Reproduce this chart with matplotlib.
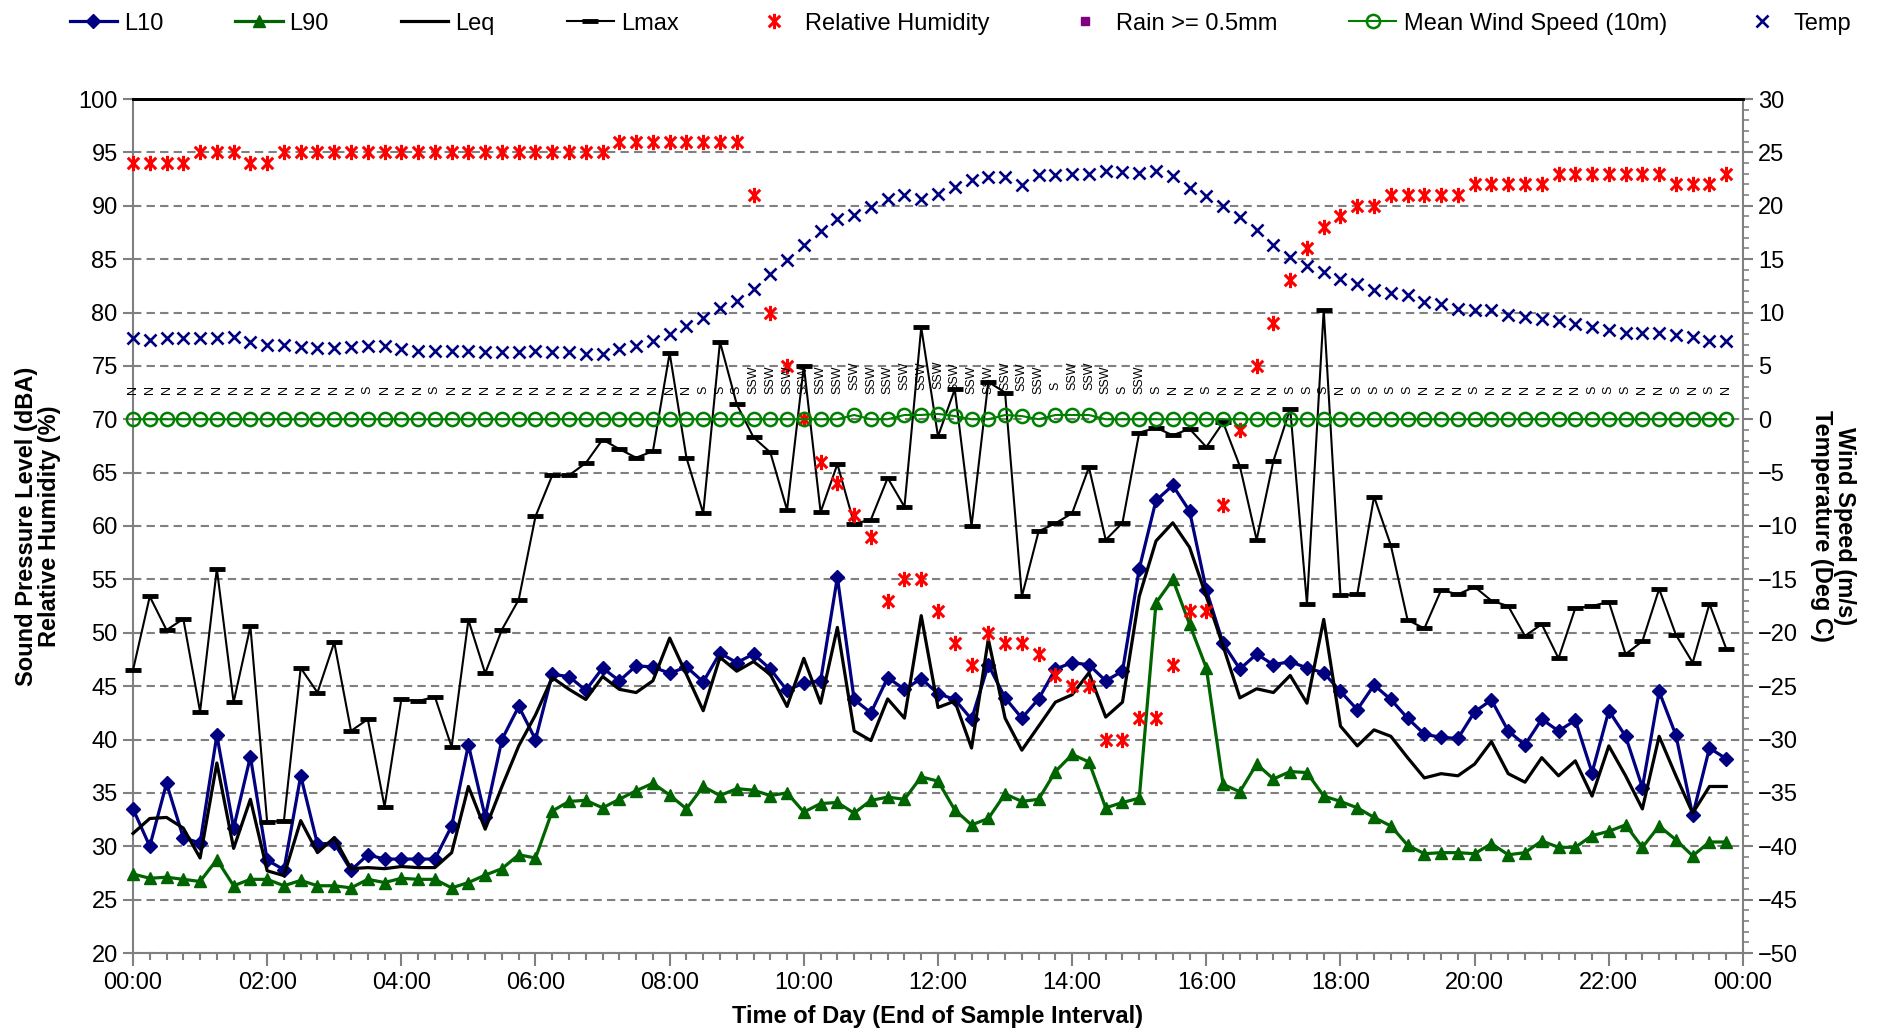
import numpy as np
import matplotlib
matplotlib.use('Agg')
import matplotlib.pyplot as plt
from matplotlib.path import Path
from matplotlib.lines import Line2D
from matplotlib.ticker import MultipleLocator

plt.rcParams['font.family'] = ['Liberation Sans', 'DejaVu Sans']

# ---------------- data (15-minute intervals, 00:00 .. 23:45) ----------------
interval_h = 0.25
n_int = 96

L10 = [33.5, 30.0, 35.9, 30.8, 30.3, 40.4, 31.7, 38.4, 28.7, 27.8, 36.6, 30.2, 30.3, 27.75, 29.2, 28.8,
       28.8, 28.8, 28.8, 31.9, 39.5, 32.75, 40.0, 43.1, 40.0,
       46.1, 45.9, 44.6, 46.7, 45.5, 46.9, 46.8, 46.2, 46.8, 45.4, 48.1, 47.2, 48.0, 46.6, 44.6, 45.3,
       45.5, 55.2, 43.75, 42.5, 45.8, 44.7, 45.7, 44.3,
       43.75, 41.9, 47.0, 43.9, 42.0, 43.8, 46.6, 47.2, 47.0, 45.5, 46.4, 56.0, 62.4, 63.8, 61.4, 54.0,
       49.0, 46.6, 48.0, 47.0, 47.3, 46.7, 46.25, 44.5, 42.8,
       45.1, 43.75, 42.0, 40.5, 40.2, 40.1, 42.6, 43.7, 40.8, 39.5, 41.9, 40.8, 41.8, 36.9, 42.7, 40.3,
       35.5, 44.5, 40.4, 32.9, 39.2, 38.2]

L90 = [27.4, 27.0, 27.1, 26.9, 26.7, 28.75, 26.3, 26.9, 26.9, 26.3, 26.8, 26.3, 26.3, 26.1, 26.9, 26.6,
       27.0, 26.9, 26.9, 26.1, 26.6, 27.3, 27.9, 29.2, 28.9,
       33.3, 34.2, 34.3, 33.6, 34.4, 35.2, 35.9, 34.8, 33.5, 35.6, 34.75, 35.4, 35.25, 34.75, 35.0, 33.2,
       34.0, 34.1, 33.1, 34.3, 34.6, 34.4, 36.5, 36.1,
       33.4, 32.0, 32.6, 34.9, 34.2, 34.4, 37.0, 38.6, 37.9, 33.6, 34.1, 34.5, 52.8, 55.0, 50.8, 46.7,
       35.8, 35.1, 37.7, 36.3, 37.0, 36.9, 34.7, 34.2, 33.6,
       32.7, 31.9, 30.1, 29.3, 29.4, 29.4, 29.3, 30.25, 29.2, 29.4, 30.5, 29.9, 29.9, 31.0, 31.4, 32.0,
       29.9, 31.9, 30.6, 29.1, 30.4, 30.4]

Leq = [31.2, 32.6, 32.7, 31.7, 28.9, 37.8, 29.8, 34.4, 27.7, 27.25, 32.4, 29.4, 30.8, 27.9, 28.0, 27.9,
       28.1, 28.0, 28.0, 29.4, 35.6, 31.6, 35.6, 39.4, 42.3,
       45.8, 44.7, 43.75, 45.9, 44.7, 44.4, 45.5, 49.5, 46.1, 42.7, 47.7, 46.4, 47.3, 46.1, 43.1, 47.6,
       43.4, 50.5, 40.8, 39.9, 43.8, 42.0, 51.6, 43.0,
       43.6, 39.2, 49.4, 42.0, 39.0, 41.25, 43.5, 44.2, 46.25, 42.1, 43.5, 53.4, 58.6, 60.3, 58.0, 53.4,
       48.75, 43.9, 44.75, 44.4, 46.0, 43.4, 51.25, 41.25, 39.4,
       40.9, 40.3, 38.3, 36.4, 36.8, 36.6, 37.7, 39.8, 36.8, 36.0, 38.3, 36.6, 38.0, 34.7, 39.4, 36.6,
       33.5, 40.3, 36.6, 33.1, 35.6, 35.6]

Lmax = [46.5, 53.4, 50.25, 51.3, 42.6, 56.0, 43.5, 50.6, 32.25, 32.4, 46.7, 44.4, 49.1, 40.8, 41.9, 33.7,
        43.75, 43.6, 44.0, 39.3, 51.2, 46.2, 50.3, 53.1, 60.9,
        64.75, 64.75, 65.9, 68.1, 67.2, 66.4, 67.0, 76.2, 66.4, 61.2, 77.25, 71.4, 68.3, 66.9, 61.5, 75.0,
        61.3, 65.8, 60.2, 60.6, 64.5, 61.8, 78.6, 68.4,
        72.8, 60.0, 73.5, 72.5, 53.4, 59.5, 60.25, 61.2, 65.5, 58.7, 60.3, 68.75, 69.2, 68.5, 69.1, 67.4,
        69.7, 65.6, 58.7, 66.1, 71.0, 52.7, 80.25, 53.5, 53.6,
        62.75, 58.2, 51.2, 50.4, 54.0, 53.6, 54.3, 53.0, 52.5, 49.7, 50.8, 47.6, 52.3, 52.5, 52.9, 48.0,
        49.2, 54.1, 49.8, 47.2, 52.7, 48.5]

RH = [94, 94, 94, 94, 95, 95, 95, 94, 94, 95, 95, 95, 95, 95, 95, 95, 95, 95, 95, 95,
      95, 95, 95, 95, 95, 95, 95, 95, 95, 96, 96, 96, 96, 96, 96, 96, 96, 91, 80, 75,
      70, 66, 64, 61, 59, 53, 55, 55, 52, 49, 47, 50, 49, 49, 48, 46, 45, 45, 40, 40,
      42, 42, 47, 52, 52, 62, 69, 75, 79, 83, 86, 88, 89, 90, 90, 91, 91, 91, 91, 91,
      92, 92, 92, 92, 92, 93, 93, 93, 93, 93, 93, 93, 92, 92, 92, 93]

Temp = [7.6, 7.4, 7.6, 7.6, 7.6, 7.6, 7.7, 7.2, 7.0, 7.0, 6.8, 6.7, 6.7, 6.8, 6.9, 6.9, 6.6, 6.4, 6.4, 6.4,
        6.4, 6.3, 6.3, 6.3, 6.4,
        6.3, 6.3, 6.1, 6.1, 6.6, 6.9, 7.3, 8.0, 8.7, 9.5, 10.4, 11.1, 12.2, 13.6, 14.9, 16.3, 17.6, 18.8,
        19.1, 19.9, 20.6, 21.0, 20.6, 21.1,
        21.8, 22.4, 22.7, 22.7, 21.9, 22.9, 22.9, 23.0, 23.0, 23.3, 23.2, 23.1, 23.3, 22.8, 21.7, 20.9,
        20.0, 18.9, 17.7, 16.3, 15.2, 14.4, 13.8, 13.1, 12.7,
        12.1, 11.8, 11.6, 11.0, 10.8, 10.3, 10.2, 10.2, 9.8, 9.6, 9.4, 9.2, 8.9, 8.6, 8.4, 8.1, 8.1, 8.1,
        7.9, 7.7, 7.3, 7.3]

WindSpeed = [0] * 43 + [0.4, 0, 0, 0.4, 0.4, 0.5, 0.3, 0, 0, 0.4, 0.3, 0, 0.4, 0.4, 0.4] + [0] * 38

WindDir = (['N'] * 14 + ['S'] + ['N'] * 3 + ['S'] + ['N'] * 15 + ['S'] * 3 + ['SSW'] * 18
           + ['S', 'SSW', 'SSW', 'SSW', 'S', 'SSW', 'S', 'N', 'N', 'S', 'N', 'N', 'N', 'N', 'S', 'S', 'S',
              'N', 'S', 'S', 'S', 'S', 'N', 'N', 'N', 'S', 'N', 'N', 'N', 'N', 'N', 'N', 'S', 'S', 'S',
              'N', 'N', 'S', 'N', 'S', 'N'])

Rain = []  # no rain events

xtick_labels = ['00:00', '02:00', '04:00', '06:00', '08:00', '10:00', '12:00',
                '14:00', '16:00', '18:00', '20:00', '22:00', '00:00']

t = np.arange(n_int) * interval_h

# ---------------- figure ----------------
W, H = 1879, 1031
fig = plt.figure(figsize=(W / 100, H / 100), dpi=100)
ax = fig.add_axes([133 / W, 1 - 953 / H, (1743 - 133) / W, (953 - 99) / H])
ax2 = ax.twinx()

gray = '#808080'
navy = '#000080'
dgreen = '#006400'
green = '#008000'

ast_path = Path([(0, -1), (0, 1), (-0.75, -0.75), (0.75, 0.75), (-0.75, 0.75), (0.75, -0.75)],
                [Path.MOVETO, Path.LINETO, Path.MOVETO, Path.LINETO, Path.MOVETO, Path.LINETO])

hL10, = ax.plot(t, L10, color=navy, lw=2.3, marker='D', ms=7.2, mfc=navy, mec=navy,
                clip_on=False, zorder=4, label='L10')
hL90, = ax.plot(t, L90, color=dgreen, lw=2.3, marker='^', ms=9, mfc=dgreen, mec=dgreen,
                clip_on=False, zorder=4, label='L90')
hLeq, = ax.plot(t, Leq, color='black', lw=2.3, clip_on=False, zorder=5, label='Leq')
hLmax, = ax.plot(t, Lmax, color='black', lw=1.5, marker='_', ms=11, mew=3.5,
                 clip_on=False, zorder=5, label='Lmax')
hRH, = ax.plot(t, RH, ls='none', marker=ast_path, ms=11, mew=2.2, color='red', mec='red',
               clip_on=False, zorder=6, label='Relative Humidity')
hRain, = ax.plot(t[:len(Rain)], Rain, ls='none', marker='s', ms=6, color='#800080',
                 label='Rain >= 0.5mm')

hWS, = ax2.plot(t, WindSpeed, color=green, lw=1.5, marker='o', ms=9.5, mfc='none', mec=green, mew=1.8,
                clip_on=False, zorder=4, label='Mean Wind Speed (10m)')
hT, = ax2.plot(t, Temp, ls='none', marker='x', ms=9, mew=1.9, color=navy,
               clip_on=False, zorder=4, label='Temp')

for xi, ws, wd in zip(t, WindSpeed, WindDir):
    ax2.text(xi, ws + 2.35, wd, rotation=90, ha='center', va='bottom', fontsize=9,
             color='black', clip_on=False, zorder=3)

# ---------------- axes styling ----------------
ax.set_xlim(0, 24)
ax.set_ylim(20, 100)
ax2.set_ylim(-50, 30)

ax.set_xticks(np.arange(0, 25, 2))
ax.set_xticklabels(xtick_labels)
ax.xaxis.set_minor_locator(MultipleLocator(0.25))
ax.set_yticks(np.arange(20, 101, 5))
ax2.set_yticks(np.arange(-50, 31, 5))
ax2.yaxis.set_minor_locator(MultipleLocator(1))

ax.tick_params(axis='x', which='major', length=9, width=1.5, color=gray, labelsize=17, pad=5)
ax.tick_params(axis='x', which='minor', length=5, width=1.5, color=gray)
ax.tick_params(axis='y', which='major', length=7, width=1.5, color=gray, labelsize=17, pad=4)
ax2.tick_params(axis='y', which='major', length=7, width=1.5, color=gray, labelsize=17, pad=4)
ax2.tick_params(axis='y', which='minor', length=4, width=1.2, color=gray)

ax.yaxis.grid(True, color=gray, linestyle=(0, (4, 2.5)), linewidth=1.5, zorder=0)
ax.set_axisbelow(True)

for s in ['left', 'bottom']:
    ax.spines[s].set_color(gray)
    ax.spines[s].set_linewidth(1.5)
ax.spines['top'].set_color('black')
ax.spines['top'].set_linewidth(2)
ax.spines['right'].set_visible(False)
ax2.spines['left'].set_visible(False)
ax2.spines['bottom'].set_visible(False)
ax2.spines['right'].set_color(gray)
ax2.spines['right'].set_linewidth(1.5)
ax2.spines['top'].set_color('black')
ax2.spines['top'].set_linewidth(2)

# ---------------- labels ----------------
fig.text(938 / W, 1 - 1016 / H, 'Time of Day (End of Sample Interval)', ha='center', va='center',
         fontsize=17, fontweight='bold')
fig.text(38 / W, 1 - 526 / H, 'Sound Pressure Level (dBA)\nRelative Humidity (%)', rotation=90,
         ha='center', va='center', multialignment='center', fontsize=17, fontweight='bold',
         linespacing=1.05)
fig.text(1833 / W, 1 - 526 / H, 'Wind Speed (m/s)\nTemperature (Deg C)', rotation=270,
         ha='center', va='center', multialignment='center', fontsize=17, fontweight='bold',
         linespacing=1.05)

handles = [hL10, hL90, hLeq, hLmax, hRH, hRain, hWS, hT]
fig.legend(handles, [h.get_label() for h in handles], loc='center', bbox_to_anchor=(0.511, 0.977),
           ncol=8, frameon=False, fontsize=17, handlelength=2.0, handletextpad=0.3,
           columnspacing=3.05, numpoints=1)

fig.savefig('out.png', dpi=100)
